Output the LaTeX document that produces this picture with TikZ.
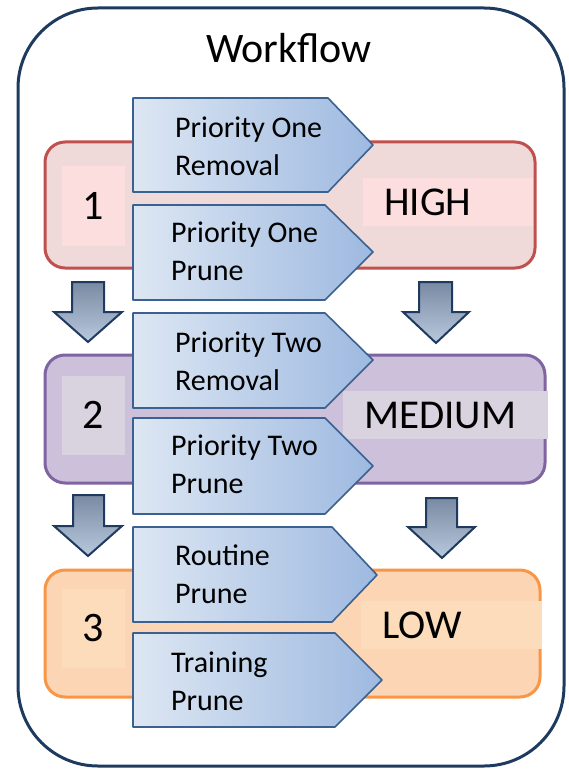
\documentclass[tikz,border=0pt]{standalone}
\usepackage{fontspec}
\setmainfont{Carlito}
\usetikzlibrary{positioning}

\definecolor{frameline}{HTML}{1F3A5F}
\definecolor{highline}{HTML}{C0504D}
\definecolor{highfill}{HTML}{F0DAD9}
\definecolor{highpatch}{HTML}{FDDEDE}
\definecolor{medline}{HTML}{8064A2}
\definecolor{medfill}{HTML}{CCC0DA}
\definecolor{medpatch}{HTML}{D9D2DF}
\definecolor{lowline}{HTML}{F79646}
\definecolor{lowfill}{HTML}{FCD5B4}
\definecolor{lowpatch}{HTML}{FDDCBC}
\definecolor{chevline}{HTML}{3A6190}
\definecolor{chevlight}{HTML}{DDE7F3}
\definecolor{chevdark}{HTML}{9EB9E0}
\definecolor{arrline}{HTML}{1F3A5F}
\definecolor{arrdark}{HTML}{7A8AA2}
\definecolor{arrlight}{HTML}{B8C9DE}

\tikzset{
  levelbox/.style={rounded corners=20pt, line width=3pt},
  chev/.style={draw=chevline, line width=1.6pt, line join=round, left color=chevlight, right color=chevdark},
  dnarrow/.style={draw=arrline, line width=2pt, top color=arrdark, bottom color=arrlight},
  prtext/.style={font=\fontsize{30}{38}\selectfont, align=left, anchor=west, inner sep=0pt},
  numtext/.style={font=\fontsize{42}{48}\selectfont, minimum width=63pt, minimum height=79pt},
  lvltext/.style={font=\fontsize{41}{48}\selectfont, anchor=west, align=left, inner xsep=21pt, minimum height=48pt}
}

\begin{document}
\begin{tikzpicture}[x=1pt,y=-1pt]
  \useasboundingbox (0,0) rectangle (569,770);
  \draw[frameline, line width=3pt, rounded corners=80pt] (18,8) rectangle (564,766);
  \node(title) at (289,48) {\fontsize{42}{48}\selectfont Workflow};

  % priority levels
  \draw[levelbox, draw=highline, fill=highfill] (45,142) rectangle (535,268);
  \draw[levelbox, draw=medline, fill=medfill] (45,355) rectangle (545,483);
  \draw[levelbox, draw=lowline, fill=lowfill] (45,570) rectangle (540,697);

  \node(n1) at (93,206) [numtext, fill=highpatch] {1};
  \node(n2) at (93,415) [numtext, fill=medpatch] {2};
  \node(n3) at (93,628) [numtext, fill=lowpatch] {3};

  \node(high) at (363,202) [lvltext, fill=highpatch, text width=128pt] {HIGH};
  \node(medium) at (343,415) [lvltext, fill=medpatch, text width=163pt] {MEDIUM};
  \node(low) at (361,625) [lvltext, fill=lowpatch, text width=139pt] {LOW};

  % tasks
  \draw[chev] (133,98) -- (328,98) -- (373,145) -- (328,192) -- (133,192) -- cycle;
  \draw[chev] (133,205) -- (325,205) -- (373,252) -- (325,300) -- (133,300) -- cycle;
  \draw[chev] (133,313) -- (325,313) -- (373,360) -- (325,408) -- (133,408) -- cycle;
  \draw[chev] (133,418) -- (325,418) -- (373,466) -- (325,514) -- (133,514) -- cycle;
  \draw[chev] (133,527) -- (332,527) -- (377,575) -- (332,622) -- (133,622) -- cycle;
  \draw[chev] (133,633) -- (335,633) -- (382,680) -- (335,727) -- (133,727) -- cycle;

  \node(t1) at (175,146) [prtext] {Priority One\\Removal};
  \node(t2) at (171,251) [prtext] {Priority One\\Prune};
  \node(t3) at (175,361) [prtext] {Priority Two\\Removal};
  \node(t4) at (171,464) [prtext] {Priority Two\\Prune};
  \node(t5) at (175,574) [prtext] {Routine\\Prune};
  \node(t6) at (171,681) [prtext] {Training\\Prune};

  % down arrows
  \draw[dnarrow] (72,282) -- (104,282) -- (104,312) -- (122,312) -- (88,342) -- (54,312) -- (72,312) -- cycle;
  \draw[dnarrow] (419,282) -- (452,282) -- (452,312) -- (469,312) -- (436,343) -- (403,312) -- (419,312) -- cycle;
  \draw[dnarrow] (73,495) -- (104,495) -- (104,526) -- (122,526) -- (88,556) -- (54,526) -- (73,526) -- cycle;
  \draw[dnarrow] (426,498) -- (457,498) -- (457,527) -- (475,527) -- (442,558) -- (408,527) -- (426,527) -- cycle;
\end{tikzpicture}
\end{document}
